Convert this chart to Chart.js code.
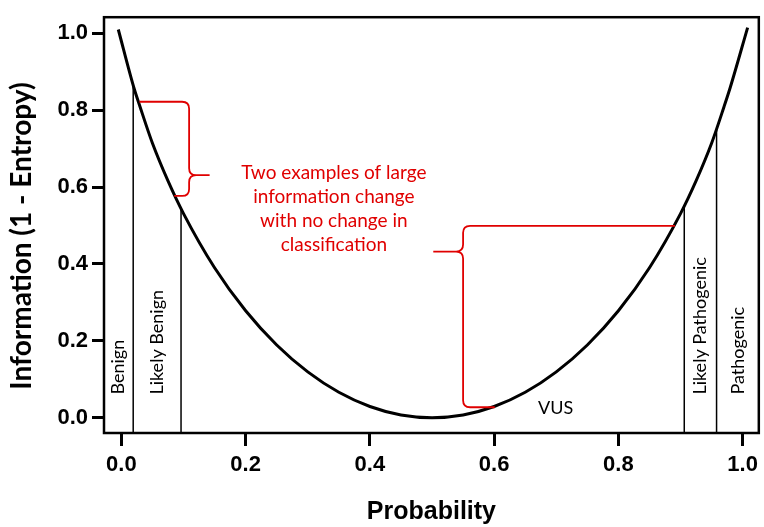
<!DOCTYPE html>
<html>
<head>
<meta charset="utf-8">
<script src="https://cdn.jsdelivr.net/npm/chart.js@4.4.0/dist/chart.umd.min.js"></script>
<style>
  html, body { margin: 0; padding: 0; background: #fff; }
  #wrap { width: 764px; height: 527px; }
</style>
</head>
<body>
<div id="wrap"><canvas id="myChart"></canvas></div>
<script>
// Curva (informação = 1 - entropia)
const probability = [-0.005, 0.02, 0.03, 0.05, 0.075, 0.1, 0.15, 0.2, 0.25, 0.3, 0.35, 0.4, 0.45, 0.5,
    0.55, 0.6, 0.65, 0.7, 0.75, 0.8, 0.85, 0.9, 0.925, 0.95, 0.97, 0.98, 1.008];
const information = [1.01, 0.859, 0.809, 0.714, 0.616, 0.531, 0.39, 0.278, 0.189, 0.119, 0.066, 0.029, 0.007, 0,
    0.007, 0.029, 0.066, 0.119, 0.189, 0.278, 0.39, 0.531, 0.616, 0.714, 0.809, 0.859, 1.015];

const xTicks = [0, 0.2, 0.4, 0.6, 0.8, 1.0];
const yTicks = [0, 0.2, 0.4, 0.6, 0.8, 1.0];

// Limites de classificação
const classLabels = ['Benign', 'Likely Benign', 'Likely Pathogenic', 'Pathogenic'];
const boundaryX = [0.019, 0.096, 0.906, 0.958];
const boundaryTop = [0.862, 0.544, 0.55, 0.749];

const noteLines = ['Two examples of large', 'information change', 'with no change in', 'classification'];

const RED = '#e00000';
const X_MIN = -0.028, X_MAX = 1.026, Y_MIN = -0.04, Y_MAX = 1.042;

// chaves vermelhas, em unidades dos eixos
const braces = [
    { x: 0.109, top: 0.822, topFrom: 0.029, bottom: 0.577, bottomFrom: 0.085, tipX: 0.142, tipY: 0.631, dir: 1 },
    { x: 0.550, top: 0.499, topFrom: 0.891, bottom: 0.027, bottomFrom: 0.601, tipX: 0.502, tipY: 0.432, dir: -1 }
];

const curve = probability.map((p, i) => ({ x: p, y: information[i] }));

const boundarySets = boundaryX.map((bx, i) => ({
    data: [{ x: bx, y: Y_MIN }, { x: bx, y: boundaryTop[i] }],
    borderColor: '#000',
    borderWidth: 1.5,
    pointRadius: 0,
    showLine: true,
    tension: 0
}));

const annotations = {
    id: 'annotations',
    afterDatasetsDraw(chart) {
        const { ctx, scales: { x, y } } = chart;
        ctx.save();

        // rótulos das classes, verticais
        const edges = [X_MIN, ...boundaryX, X_MAX];
        const spans = [[0, 1], [1, 2], [3, 4], [4, 5]];
        ctx.fillStyle = '#000';
        ctx.font = '18px Lato';
        ctx.textAlign = 'left';
        ctx.textBaseline = 'middle';
        spans.forEach(([a, b], i) => {
            const cx = (x.getPixelForValue(edges[a]) + x.getPixelForValue(edges[b])) / 2;
            ctx.save();
            ctx.translate(cx, y.getPixelForValue(0.06));
            ctx.rotate(-Math.PI / 2);
            ctx.fillText(classLabels[i], 0, 0);
            ctx.restore();
        });

        ctx.font = '18px Lato';
        ctx.textAlign = 'center';
        ctx.fillText('VUS', x.getPixelForValue(0.699), y.getPixelForValue(0.024));

        // texto vermelho
        ctx.fillStyle = RED;
        ctx.font = '19px Lato';
        const ty = y.getPixelForValue(0.636);
        noteLines.forEach((t, i) => ctx.fillText(t, x.getPixelForValue(0.342), ty + i * 24));

        // chaves
        ctx.strokeStyle = RED;
        ctx.lineWidth = 1.8;
        const r = 7;
        braces.forEach(b => {
            const bx = x.getPixelForValue(b.x);
            const yt = y.getPixelForValue(b.top), yb = y.getPixelForValue(b.bottom);
            const yp = y.getPixelForValue(b.tipY), xp = x.getPixelForValue(b.tipX);
            const d = b.dir;
            ctx.beginPath();
            ctx.moveTo(x.getPixelForValue(b.topFrom), yt);
            ctx.lineTo(bx - d * r, yt);
            ctx.quadraticCurveTo(bx, yt, bx, yt + r);
            ctx.lineTo(bx, yp - r);
            ctx.quadraticCurveTo(bx, yp, bx + d * r, yp);
            ctx.lineTo(xp, yp);
            ctx.moveTo(bx + d * r, yp);
            ctx.quadraticCurveTo(bx, yp, bx, yp + r);
            ctx.lineTo(bx, yb - r);
            ctx.quadraticCurveTo(bx, yb, bx - d * r, yb);
            ctx.lineTo(x.getPixelForValue(b.bottomFrom), yb);
            ctx.stroke();
        });

        // título do eixo y
        ctx.fillStyle = '#000';
        ctx.font = 'bold 28px Lato';
        ctx.translate(22, 236);
        ctx.rotate(-Math.PI / 2);
        ctx.fillText('Information (1 - Entropy)', 0, 0);
        ctx.restore();
    },
    afterDraw(chart) {
        const { ctx, chartArea: a } = chart;
        ctx.save();
        ctx.strokeStyle = '#000';
        ctx.lineWidth = 2.5;
        ctx.strokeRect(a.left, a.top, a.right - a.left, a.bottom - a.top);
        ctx.restore();
    }
};

Chart.defaults.font.family = 'Liberation Sans';
Chart.defaults.color = '#000';

const ctx = document.getElementById('myChart').getContext('2d');
const myChart = new Chart(ctx, {
    type: 'scatter',
    data: {
        datasets: [{
            data: curve,
            borderColor: '#000',
            borderWidth: 3,
            pointRadius: 0,
            showLine: true,
            cubicInterpolationMode: 'monotone'
        }, ...boundarySets]
    },
    options: {
        responsive: true,
        maintainAspectRatio: false,
        animation: false,
        devicePixelRatio: 1,
        layout: { padding: { top: 12, right: 2, left: 0, bottom: 0 } },
        plugins: { legend: { display: false }, tooltip: { enabled: false } },
        scales: {
            x: {
                type: 'linear',
                min: X_MIN,
                max: X_MAX,
                afterBuildTicks: axis => { axis.ticks = xTicks.map(v => ({ value: v })); },
                afterFit: axis => { axis.height = 94; },
                border: { display: false },
                grid: { drawOnChartArea: false, drawTicks: true, tickLength: 13, tickWidth: 3, tickColor: '#000' },
                ticks: {
                    padding: 6,
                    font: { size: 22, weight: 'bold' },
                    callback: v => v.toFixed(1)
                },
                title: {
                    display: true,
                    text: 'Probability',
                    font: { size: 25, weight: 'bold' },
                    padding: { top: 0, bottom: 0 }
                }
            },
            y: {
                type: 'linear',
                min: Y_MIN,
                max: Y_MAX,
                afterBuildTicks: axis => { axis.ticks = yTicks.map(v => ({ value: v })); },
                afterFit: axis => { axis.width = 104; },
                border: { display: false },
                grid: { drawOnChartArea: false, drawTicks: true, tickLength: 12, tickWidth: 3, tickColor: '#000' },
                ticks: {
                    padding: 4,
                    font: { size: 22, weight: 'bold' },
                    callback: v => v.toFixed(1)
                }
            }
        }
    },
    plugins: [annotations]
});
</script>
</body>
</html>
